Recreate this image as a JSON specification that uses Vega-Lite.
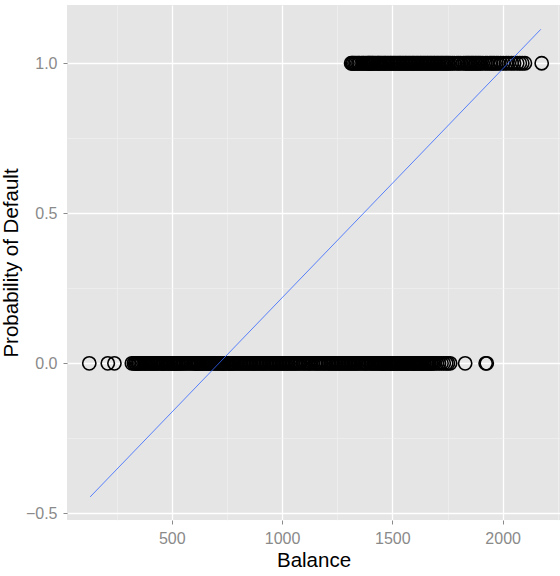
{
  "$schema": "https://vega.github.io/schema/vega-lite/v6.json",
  "width": 493,
  "height": 515,
  "autosize": {"type": "none"},
  "padding": {"left": 67, "top": 5, "right": 0, "bottom": 56},
  "background": "white",
  "config": {
    "view": {"stroke": null, "fill": "#E5E5E5"},
    "font": "Liberation Sans",
    "axis": {
      "domain": false,
      "labelColor": "#8A8A8A",
      "labelFont": "Liberation Sans",
      "labelFontSize": 16,
      "tickColor": "#8A8A8A",
      "tickSize": 4,
      "tickWidth": 1,
      "gridColor": "white",
      "titleFont": "Liberation Sans",
      "titleFontSize": 20.5,
      "titleFontWeight": "normal",
      "titleColor": "black"
    }
  },
  "datasets": {
    "balances": [
      {"balance": 126, "default": 0}, {"balance": 210, "default": 0}, {"balance": 240, "default": 0},
      {"balance": 319, "default": 0}, {"balance": 328, "default": 0}, {"balance": 334, "default": 0},
      {"balance": 337, "default": 0}, {"balance": 343, "default": 0}, {"balance": 348, "default": 0},
      {"balance": 352, "default": 0}, {"balance": 358, "default": 0}, {"balance": 364, "default": 0},
      {"balance": 371, "default": 0}, {"balance": 377, "default": 0}, {"balance": 383, "default": 0},
      {"balance": 389, "default": 0}, {"balance": 396, "default": 0}, {"balance": 402, "default": 0},
      {"balance": 408, "default": 0}, {"balance": 414, "default": 0}, {"balance": 419, "default": 0},
      {"balance": 425, "default": 0}, {"balance": 431, "default": 0}, {"balance": 437, "default": 0},
      {"balance": 444, "default": 0}, {"balance": 451, "default": 0}, {"balance": 458, "default": 0},
      {"balance": 462, "default": 0}, {"balance": 466, "default": 0}, {"balance": 474, "default": 0},
      {"balance": 480, "default": 0}, {"balance": 486, "default": 0}, {"balance": 492, "default": 0},
      {"balance": 497, "default": 0}, {"balance": 504, "default": 0}, {"balance": 508, "default": 0},
      {"balance": 512, "default": 0}, {"balance": 517, "default": 0}, {"balance": 521, "default": 0},
      {"balance": 527, "default": 0}, {"balance": 531, "default": 0}, {"balance": 536, "default": 0},
      {"balance": 542, "default": 0}, {"balance": 549, "default": 0}, {"balance": 556, "default": 0},
      {"balance": 563, "default": 0}, {"balance": 572, "default": 0}, {"balance": 580, "default": 0},
      {"balance": 588, "default": 0}, {"balance": 597, "default": 0}, {"balance": 602, "default": 0},
      {"balance": 606, "default": 0}, {"balance": 611, "default": 0}, {"balance": 615, "default": 0},
      {"balance": 620, "default": 0}, {"balance": 624, "default": 0}, {"balance": 631, "default": 0},
      {"balance": 636, "default": 0}, {"balance": 640, "default": 0}, {"balance": 646, "default": 0},
      {"balance": 651, "default": 0}, {"balance": 657, "default": 0}, {"balance": 664, "default": 0},
      {"balance": 668, "default": 0}, {"balance": 671, "default": 0}, {"balance": 680, "default": 0},
      {"balance": 686, "default": 0}, {"balance": 694, "default": 0}, {"balance": 700, "default": 0},
      {"balance": 706, "default": 0}, {"balance": 712, "default": 0}, {"balance": 718, "default": 0},
      {"balance": 725, "default": 0}, {"balance": 729, "default": 0}, {"balance": 733, "default": 0},
      {"balance": 738, "default": 0}, {"balance": 744, "default": 0}, {"balance": 752, "default": 0},
      {"balance": 757, "default": 0}, {"balance": 761, "default": 0}, {"balance": 768, "default": 0},
      {"balance": 773, "default": 0}, {"balance": 777, "default": 0}, {"balance": 784, "default": 0},
      {"balance": 790, "default": 0}, {"balance": 797, "default": 0}, {"balance": 803, "default": 0},
      {"balance": 810, "default": 0}, {"balance": 816, "default": 0}, {"balance": 823, "default": 0},
      {"balance": 829, "default": 0}, {"balance": 835, "default": 0}, {"balance": 842, "default": 0},
      {"balance": 848, "default": 0}, {"balance": 855, "default": 0}, {"balance": 861, "default": 0},
      {"balance": 868, "default": 0}, {"balance": 874, "default": 0}, {"balance": 881, "default": 0},
      {"balance": 887, "default": 0}, {"balance": 894, "default": 0}, {"balance": 900, "default": 0},
      {"balance": 907, "default": 0}, {"balance": 913, "default": 0}, {"balance": 919, "default": 0},
      {"balance": 926, "default": 0}, {"balance": 932, "default": 0}, {"balance": 939, "default": 0},
      {"balance": 946, "default": 0}, {"balance": 952, "default": 0}, {"balance": 958, "default": 0},
      {"balance": 965, "default": 0}, {"balance": 971, "default": 0}, {"balance": 978, "default": 0},
      {"balance": 985, "default": 0}, {"balance": 991, "default": 0}, {"balance": 998, "default": 0},
      {"balance": 1004, "default": 0}, {"balance": 1011, "default": 0}, {"balance": 1017, "default": 0},
      {"balance": 1024, "default": 0}, {"balance": 1030, "default": 0}, {"balance": 1037, "default": 0},
      {"balance": 1043, "default": 0}, {"balance": 1050, "default": 0}, {"balance": 1057, "default": 0},
      {"balance": 1063, "default": 0}, {"balance": 1070, "default": 0}, {"balance": 1078, "default": 0},
      {"balance": 1085, "default": 0}, {"balance": 1095, "default": 0}, {"balance": 1101, "default": 0},
      {"balance": 1109, "default": 0}, {"balance": 1118, "default": 0}, {"balance": 1124, "default": 0},
      {"balance": 1131, "default": 0}, {"balance": 1140, "default": 0}, {"balance": 1149, "default": 0},
      {"balance": 1155, "default": 0}, {"balance": 1163, "default": 0}, {"balance": 1170, "default": 0},
      {"balance": 1177, "default": 0}, {"balance": 1186, "default": 0}, {"balance": 1192, "default": 0},
      {"balance": 1199, "default": 0}, {"balance": 1208, "default": 0}, {"balance": 1214, "default": 0},
      {"balance": 1221, "default": 0}, {"balance": 1228, "default": 0}, {"balance": 1234, "default": 0},
      {"balance": 1241, "default": 0}, {"balance": 1247, "default": 0}, {"balance": 1253, "default": 0},
      {"balance": 1260, "default": 0}, {"balance": 1266, "default": 0}, {"balance": 1272, "default": 0},
      {"balance": 1279, "default": 0}, {"balance": 1285, "default": 0}, {"balance": 1291, "default": 0},
      {"balance": 1298, "default": 0}, {"balance": 1304, "default": 0}, {"balance": 1311, "default": 0},
      {"balance": 1317, "default": 0}, {"balance": 1324, "default": 0}, {"balance": 1330, "default": 0},
      {"balance": 1336, "default": 0}, {"balance": 1343, "default": 0}, {"balance": 1351, "default": 0},
      {"balance": 1358, "default": 0}, {"balance": 1367, "default": 0}, {"balance": 1373, "default": 0},
      {"balance": 1380, "default": 0}, {"balance": 1386, "default": 0}, {"balance": 1395, "default": 0},
      {"balance": 1402, "default": 0}, {"balance": 1408, "default": 0}, {"balance": 1415, "default": 0},
      {"balance": 1421, "default": 0}, {"balance": 1427, "default": 0}, {"balance": 1434, "default": 0},
      {"balance": 1440, "default": 0}, {"balance": 1447, "default": 0}, {"balance": 1451, "default": 0},
      {"balance": 1455, "default": 0}, {"balance": 1460, "default": 0}, {"balance": 1464, "default": 0},
      {"balance": 1468, "default": 0}, {"balance": 1473, "default": 0}, {"balance": 1479, "default": 0},
      {"balance": 1485, "default": 0}, {"balance": 1490, "default": 0}, {"balance": 1494, "default": 0},
      {"balance": 1498, "default": 0}, {"balance": 1503, "default": 0}, {"balance": 1507, "default": 0},
      {"balance": 1512, "default": 0}, {"balance": 1518, "default": 0}, {"balance": 1522, "default": 0},
      {"balance": 1526, "default": 0}, {"balance": 1531, "default": 0}, {"balance": 1537, "default": 0},
      {"balance": 1541, "default": 0}, {"balance": 1545, "default": 0}, {"balance": 1550, "default": 0},
      {"balance": 1556, "default": 0}, {"balance": 1561, "default": 0}, {"balance": 1565, "default": 0},
      {"balance": 1569, "default": 0}, {"balance": 1574, "default": 0}, {"balance": 1580, "default": 0},
      {"balance": 1587, "default": 0}, {"balance": 1591, "default": 0}, {"balance": 1595, "default": 0},
      {"balance": 1601, "default": 0}, {"balance": 1606, "default": 0}, {"balance": 1611, "default": 0},
      {"balance": 1615, "default": 0}, {"balance": 1621, "default": 0}, {"balance": 1627, "default": 0},
      {"balance": 1632, "default": 0}, {"balance": 1636, "default": 0}, {"balance": 1641, "default": 0},
      {"balance": 1646, "default": 0}, {"balance": 1652, "default": 0}, {"balance": 1657, "default": 0},
      {"balance": 1663, "default": 0}, {"balance": 1668, "default": 0}, {"balance": 1674, "default": 0},
      {"balance": 1679, "default": 0}, {"balance": 1685, "default": 0}, {"balance": 1691, "default": 0},
      {"balance": 1702, "default": 0}, {"balance": 1712, "default": 0}, {"balance": 1723, "default": 0},
      {"balance": 1733, "default": 0}, {"balance": 1744, "default": 0}, {"balance": 1752, "default": 0},
      {"balance": 1762, "default": 0}, {"balance": 1830, "default": 0}, {"balance": 1923, "default": 0},
      {"balance": 1928, "default": 0},
      {"balance": 1313, "default": 1}, {"balance": 1318, "default": 1}, {"balance": 1322, "default": 1},
      {"balance": 1328, "default": 1}, {"balance": 1334, "default": 1}, {"balance": 1341, "default": 1},
      {"balance": 1347, "default": 1}, {"balance": 1352, "default": 1}, {"balance": 1360, "default": 1},
      {"balance": 1366, "default": 1}, {"balance": 1371, "default": 1}, {"balance": 1378, "default": 1},
      {"balance": 1385, "default": 1}, {"balance": 1390, "default": 1}, {"balance": 1394, "default": 1},
      {"balance": 1398, "default": 1}, {"balance": 1403, "default": 1}, {"balance": 1408, "default": 1},
      {"balance": 1412, "default": 1}, {"balance": 1418, "default": 1}, {"balance": 1424, "default": 1},
      {"balance": 1431, "default": 1}, {"balance": 1436, "default": 1}, {"balance": 1440, "default": 1},
      {"balance": 1446, "default": 1}, {"balance": 1452, "default": 1}, {"balance": 1459, "default": 1},
      {"balance": 1465, "default": 1}, {"balance": 1470, "default": 1}, {"balance": 1477, "default": 1},
      {"balance": 1483, "default": 1}, {"balance": 1490, "default": 1}, {"balance": 1495, "default": 1},
      {"balance": 1502, "default": 1}, {"balance": 1508, "default": 1}, {"balance": 1514, "default": 1},
      {"balance": 1521, "default": 1}, {"balance": 1527, "default": 1}, {"balance": 1533, "default": 1},
      {"balance": 1538, "default": 1}, {"balance": 1545, "default": 1}, {"balance": 1551, "default": 1},
      {"balance": 1558, "default": 1}, {"balance": 1563, "default": 1}, {"balance": 1570, "default": 1},
      {"balance": 1576, "default": 1}, {"balance": 1582, "default": 1}, {"balance": 1589, "default": 1},
      {"balance": 1594, "default": 1}, {"balance": 1600, "default": 1}, {"balance": 1607, "default": 1},
      {"balance": 1613, "default": 1}, {"balance": 1619, "default": 1}, {"balance": 1626, "default": 1},
      {"balance": 1631, "default": 1}, {"balance": 1638, "default": 1}, {"balance": 1644, "default": 1},
      {"balance": 1650, "default": 1}, {"balance": 1657, "default": 1}, {"balance": 1662, "default": 1},
      {"balance": 1669, "default": 1}, {"balance": 1675, "default": 1}, {"balance": 1681, "default": 1},
      {"balance": 1688, "default": 1}, {"balance": 1693, "default": 1}, {"balance": 1700, "default": 1},
      {"balance": 1706, "default": 1}, {"balance": 1712, "default": 1}, {"balance": 1719, "default": 1},
      {"balance": 1725, "default": 1}, {"balance": 1731, "default": 1}, {"balance": 1738, "default": 1},
      {"balance": 1744, "default": 1}, {"balance": 1750, "default": 1}, {"balance": 1756, "default": 1},
      {"balance": 1763, "default": 1}, {"balance": 1772, "default": 1}, {"balance": 1781, "default": 1},
      {"balance": 1793, "default": 1}, {"balance": 1801, "default": 1}, {"balance": 1810, "default": 1},
      {"balance": 1822, "default": 1}, {"balance": 1830, "default": 1}, {"balance": 1837, "default": 1},
      {"balance": 1843, "default": 1}, {"balance": 1849, "default": 1}, {"balance": 1856, "default": 1},
      {"balance": 1862, "default": 1}, {"balance": 1868, "default": 1}, {"balance": 1875, "default": 1},
      {"balance": 1881, "default": 1}, {"balance": 1888, "default": 1}, {"balance": 1894, "default": 1},
      {"balance": 1901, "default": 1}, {"balance": 1910, "default": 1}, {"balance": 1922, "default": 1},
      {"balance": 1930, "default": 1}, {"balance": 1941, "default": 1}, {"balance": 1948, "default": 1},
      {"balance": 1956, "default": 1}, {"balance": 1963, "default": 1}, {"balance": 1972, "default": 1},
      {"balance": 1980, "default": 1}, {"balance": 1991, "default": 1}, {"balance": 2003, "default": 1},
      {"balance": 2016, "default": 1}, {"balance": 2027, "default": 1}, {"balance": 2041, "default": 1},
      {"balance": 2052, "default": 1}, {"balance": 2066, "default": 1}, {"balance": 2078, "default": 1},
      {"balance": 2089, "default": 1}, {"balance": 2101, "default": 1}, {"balance": 2177, "default": 1}
    ],
    "fit": [
      {"balance": 130, "prob": -0.445},
      {"balance": 2173, "prob": 1.113}
    ]
  },
  "layer": [
    {
      "data": {"name": "balances"},
      "mark": {"type": "point", "shape": "circle", "filled": false, "color": "black", "strokeWidth": 1.6, "size": 175, "opacity": 1},
      "encoding": {
        "x": {
          "field": "balance", "type": "quantitative",
          "scale": {"domain": [25, 2260], "nice": false, "zero": false},
          "axis": {"orient": "bottom", "values": [250, 750, 1250, 1750, 2250], "grid": true, "gridWidth": 0.6, "gridColor": "#F2F2F2", "labels": false, "ticks": false, "title": null}
        },
        "y": {
          "field": "default", "type": "quantitative",
          "scale": {"domain": [-0.522, 1.194], "nice": false, "zero": false},
          "axis": {"orient": "left", "values": [-0.25, 0.25, 0.75], "grid": true, "gridWidth": 0.6, "gridColor": "#F2F2F2", "labels": false, "ticks": false, "title": null}
        }
      }
    },
    {
      "data": {"name": "fit"},
      "mark": {"type": "line", "color": "#3366FF", "strokeWidth": 0.8},
      "encoding": {
        "x": {
          "field": "balance", "type": "quantitative",
          "axis": {"orient": "bottom", "values": [500, 1000, 1500, 2000], "format": "d", "grid": true, "gridWidth": 1.3, "labelPadding": 6, "title": "Balance", "titlePadding": 4}
        },
        "y": {
          "field": "prob", "type": "quantitative",
          "axis": {"orient": "left", "values": [-0.5, 0, 0.5, 1], "format": ".1f", "grid": true, "gridWidth": 1.3, "labelPadding": 6, "title": "Probability of Default", "titlePadding": 4}
        }
      }
    }
  ],
  "resolve": {"axis": {"x": "independent", "y": "independent"}}
}
